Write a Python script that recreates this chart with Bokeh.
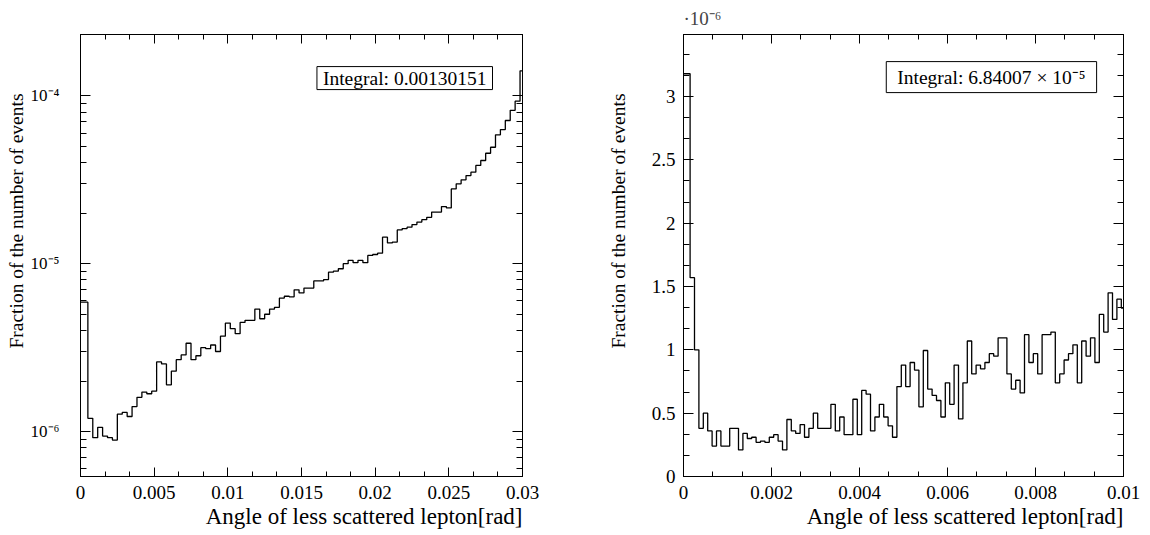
import numpy as np
from bokeh.plotting import figure
from bokeh.models import (FixedTicker, CustomJSTickFormatter, LinearAxis, LogAxis,
                          Label, Title, Range1d)
from bokeh.layouts import row
from bokeh.embed import file_html
from bokeh.resources import INLINE

FONT = "Liberation Serif"

# ---------------- data (fractions in units of 1e-6) ----------------
left_x_max = 0.03
left_fraction_e6 = [
    5.9, 5.9, 1.2, 0.92, 1.06, 0.94, 0.92, 0.89, 1.27, 1.30,
    1.23, 1.41, 1.60, 1.72, 1.68, 1.74, 2.60, 2.53, 1.90, 2.29,
    2.68, 2.86, 3.36, 2.68, 2.83, 3.16, 3.12, 3.28, 3.00, 3.70,
    4.43, 4.10, 3.83, 4.47, 4.60, 4.60, 5.37, 4.70, 5.00, 5.37,
    5.50, 6.24, 6.40, 6.35, 6.99, 6.70, 7.16, 7.16, 7.90, 7.90,
    8.05, 8.90, 9.03, 9.33, 10.0, 10.47, 10.14, 10.47, 10.14, 11.2,
    11.35, 11.56, 14.4, 13.3, 13.45, 15.9, 16.2, 16.5, 17.1, 17.7,
    18.3, 18.9, 20.3, 20.3, 21.9, 21.5, 27.9, 29.9, 31.6, 33.5,
    35.1, 38.5, 41.2, 45.5, 49.4, 58.6, 63.0, 71.3, 82.0, 93.0,
    141.0,
]
right_x_max = 0.01
right_fraction_e6 = [
    3.18, 3.18, 1.57, 1.0, 0.38, 0.50, 0.36, 0.24, 0.36, 0.24,
    0.24, 0.38, 0.38, 0.21, 0.34, 0.30, 0.31, 0.27, 0.28, 0.27,
    0.31, 0.33, 0.28, 0.21, 0.45, 0.36, 0.34, 0.41, 0.31, 0.38,
    0.50, 0.38, 0.38, 0.38, 0.57, 0.36, 0.47, 0.33, 0.33, 0.61,
    0.33, 0.68, 0.65, 0.36, 0.47, 0.57, 0.47, 0.40, 0.31, 0.71,
    0.88, 0.71, 0.90, 0.84, 0.55, 0.995, 0.69, 0.64, 0.60, 0.47,
    0.74, 0.57, 0.88, 0.455, 0.74, 1.07, 0.81, 0.88, 0.85, 0.90,
    0.97, 0.95, 1.095, 1.095, 0.81, 0.69, 0.76, 0.66, 1.12, 0.90,
    0.97, 0.81, 1.12, 1.12, 1.14, 0.74, 0.81, 0.92, 0.97, 1.04,
    0.74, 1.07, 0.95, 1.095, 0.90, 1.28, 1.14, 1.45, 1.24, 1.40,
    1.33,
]

left_integral_text = "Integral: 0.00130151"
right_integral_text = "Integral: 6.84007 × 10⁻⁵"
right_scale_text = "·10⁻⁶"
x_title = "Angle of less scattered lepton[rad]"
y_title = "Fraction of the number of events"

left_xticks = [0, 0.005, 0.01, 0.015, 0.02, 0.025, 0.03]
left_yticks = [1e-6, 1e-5, 1e-4]
right_xticks = [0, 0.002, 0.004, 0.006, 0.008, 0.01]
right_yticks = [0, 0.5, 1, 1.5, 2, 2.5, 3]

# ---------------- helpers ----------------
TICK_FS = "19px"
XTITLE_FS = "23px"
YTITLE_FS = "19.5px"
BOX_FS = "19.5px"

num_fmt = CustomJSTickFormatter(code="return String(Number(tick.toFixed(6)));")
log_fmt = CustomJSTickFormatter(code="""
const sup = {'-':'\u207b','0':'\u2070','1':'\u00b9','2':'\u00b2','3':'\u00b3','4':'\u2074',
             '5':'\u2075','6':'\u2076','7':'\u2077','8':'\u2078','9':'\u2079'};
const e = Math.round(Math.log10(tick));
return '10' + String(e).split('').map(c => sup[c]).join('');
""")
blank_fmt = CustomJSTickFormatter(code="return '';")


def style_axis(ax, major_in, minor_in, standoff, fs=TICK_FS):
    ax.major_tick_in = major_in
    ax.major_tick_out = 0
    ax.minor_tick_in = minor_in
    ax.minor_tick_out = 0
    ax.axis_line_color = "black"
    ax.major_tick_line_color = "black"
    ax.minor_tick_line_color = "black"
    ax.major_label_text_font = FONT
    ax.major_label_text_font_size = fs
    ax.major_label_text_color = "black"
    ax.major_label_standoff = standoff


def minor_lin(ticks, n=3):
    out = []
    for a, b in zip(ticks[:-1], ticks[1:]):
        for i in range(n):
            out.append(a + (b - a) * i / n)
    out.append(ticks[-1])
    return out


def base_fig(w, x_end, y_start, y_end, log, bl, br, bt, bb):
    p = figure(width=w, height=535,
               x_range=Range1d(0, x_end), y_range=Range1d(y_start, y_end),
               y_axis_type="log" if log else "linear",
               output_backend="svg", toolbar_location=None,
               min_border_left=bl, min_border_right=br,
               min_border_top=bt, min_border_bottom=bb,
               background_fill_color="white", border_fill_color="white")
    p.outline_line_color = "black"
    p.outline_line_width = 1
    p.xgrid.visible = False
    p.ygrid.visible = False
    return p


def add_titles(p, y_standoff):
    tx = Title(text=x_title, align="right", text_font=FONT, text_font_size=XTITLE_FS,
               text_font_style="normal", text_color="black", standoff=0)
    p.add_layout(tx, "below")
    ty = Title(text=y_title, align="right", offset=59, text_font=FONT,
               text_font_size=YTITLE_FS, text_font_style="normal", text_color="black",
               standoff=y_standoff)
    p.add_layout(ty, "left")


# ---------------- left plot ----------------
lx = np.linspace(0, left_x_max, len(left_fraction_e6))
ly = np.array(left_fraction_e6) * 1e-6

p1 = base_fig(585, left_x_max, 5.4e-7, 2.32e-4, True, 80, 63, 34, 59)
p1.title.visible = False

lx_ticker = FixedTicker(ticks=left_xticks, minor_ticks=minor_lin(left_xticks))
ly_minor = [m * 10.0 ** e for e in (-7, -6, -5) for m in range(2, 10)]
ly_minor = [v for v in ly_minor if 5.4e-7 < v < 1.5e-4]
ly_ticker = FixedTicker(ticks=left_yticks, minor_ticks=ly_minor)

p1.xaxis.ticker = lx_ticker
p1.xaxis.formatter = num_fmt
p1.yaxis.ticker = ly_ticker
p1.yaxis.formatter = log_fmt
for ax in p1.xaxis:
    style_axis(ax, 9, 5, 9)
for ax in p1.yaxis:
    style_axis(ax, 10, 6, 21, "17px")

top1 = LinearAxis(ticker=lx_ticker, formatter=blank_fmt)
style_axis(top1, 9, 5, 0)
p1.add_layout(top1, "above")
right1 = LogAxis(ticker=ly_ticker, formatter=blank_fmt)
style_axis(right1, 10, 6, 0)
p1.add_layout(right1, "right")

p1.step(lx, ly, mode="center", line_color="black", line_width=1.3)
add_titles(p1, 2)

p1.add_layout(Label(x=0.027964, y=1.494e-4, text=left_integral_text, text_align="right",
                    text_baseline="top", text_font=FONT, text_font_size=BOX_FS,
                    text_color="black", border_line_color="black", border_line_width=1,
                    background_fill_color="white",
                    padding=dict(left=6, right=6, top=1, bottom=1)))

# ---------------- right plot ----------------
rx = np.linspace(0, right_x_max, len(right_fraction_e6))
ry = np.array(right_fraction_e6)

p2 = base_fig(565, right_x_max, 0, 3.49, False, 96, 27, 34, 59)
p2.title.text = right_scale_text
p2.title.align = "left"
p2.title.text_font = FONT
p2.title.text_font_size = "19px"
p2.title.text_font_style = "normal"
p2.title.standoff = 11

rx_ticker = FixedTicker(ticks=right_xticks, minor_ticks=minor_lin(right_xticks))
ry_ticker = FixedTicker(ticks=right_yticks,
                        minor_ticks=[v for v in minor_lin(right_yticks + [3.5]) if v < 3.49])
p2.xaxis.ticker = rx_ticker
p2.xaxis.formatter = num_fmt
p2.yaxis.ticker = ry_ticker
p2.yaxis.formatter = num_fmt
for ax in p2.xaxis:
    style_axis(ax, 9, 5, 9)
for ax in p2.yaxis:
    style_axis(ax, 10, 6, 8)

top2 = LinearAxis(ticker=rx_ticker, formatter=blank_fmt)
style_axis(top2, 9, 5, 0)
p2.add_layout(top2, "above")
right2 = LinearAxis(ticker=ry_ticker, formatter=blank_fmt)
style_axis(right2, 10, 6, 0)
p2.add_layout(right2, "right")

p2.step(rx, ry, mode="center", line_color="black", line_width=1.3)
add_titles(p2, 40)

p2.add_layout(Label(x=0.009389, y=3.276, text=right_integral_text, text_align="right",
                    text_baseline="top", text_font=FONT, text_font_size=BOX_FS,
                    text_color="black", border_line_color="black", border_line_width=1,
                    background_fill_color="white",
                    padding=dict(left=11, right=11, top=5, bottom=5)))

layout = row(p1, p2)
open("out.html", "w").write(file_html(layout, INLINE))
